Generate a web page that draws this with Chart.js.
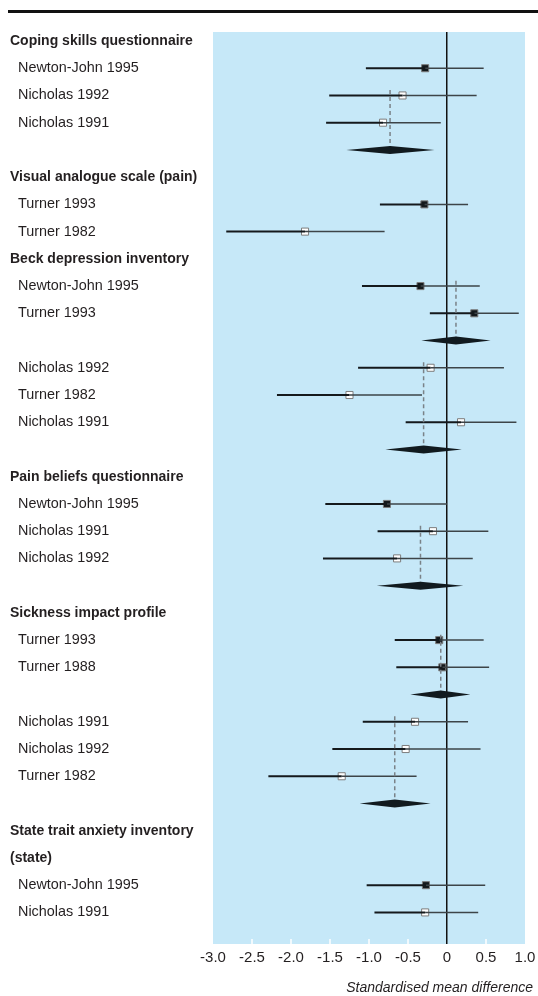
<!DOCTYPE html>
<html>
<head>
<meta charset="utf-8">
<script src="https://cdn.jsdelivr.net/npm/chart.js@4.4.1/dist/chart.umd.min.js"></script>
<style>
  html, body { margin: 0; padding: 0; background: #fff; }
  #wrap { position: relative; width: 538px; height: 996px; }
  #rule { position: absolute; left: 8px; right: 0; top: 10px; height: 2.5px; background: #111; }
  #xtitle {
    position: absolute; right: 5px; top: 979px;
    font: italic 14px "Liberation Sans", Arial, Helvetica, sans-serif;
    color: #231f20;
  }
</style>
</head>
<body>
<div id="wrap">
  <div id="rule"></div>
  <canvas id="forestChart"></canvas>
  <div id="xtitle">Standardised mean difference</div>
</div>
<script>
// one label per row, top to bottom ("" = row for a pooled diamond)
const rowLabels = [
  "Coping skills questionnaire", "Newton-John 1995", "Nicholas 1992", "Nicholas 1991", "",
  "Visual analogue scale (pain)", "Turner 1993", "Turner 1982",
  "Beck depression inventory", "Newton-John 1995", "Turner 1993", "",
  "Nicholas 1992", "Turner 1982", "Nicholas 1991", "",
  "Pain beliefs questionnaire", "Newton-John 1995", "Nicholas 1991", "Nicholas 1992", "",
  "Sickness impact profile", "Turner 1993", "Turner 1988", "",
  "Nicholas 1991", "Nicholas 1992", "Turner 1982", "",
  "State trait anxiety inventory", "(state)", "Newton-John 1995", "Nicholas 1991"
];
const headingRows = [0, 5, 8, 16, 21, 29, 30];

// individual studies
const studyRows = [1, 2, 3, 6, 7, 9, 10, 12, 13, 14, 17, 18, 19, 22, 23, 25, 26, 27, 31, 32];
const studyEst = [-0.28, -0.57, -0.82, -0.29, -1.82, -0.34, 0.35, -0.21, -1.25, 0.18,
                  -0.77, -0.18, -0.64, -0.10, -0.06, -0.41, -0.53, -1.35, -0.27, -0.28];
const studyLow = [-1.04, -1.51, -1.55, -0.86, -2.83, -1.09, -0.22, -1.14, -2.18, -0.53,
                  -1.56, -0.89, -1.59, -0.67, -0.65, -1.08, -1.47, -2.29, -1.03, -0.93];
const studyHigh = [0.47, 0.38, -0.08, 0.27, -0.80, 0.42, 0.92, 0.73, -0.32, 0.89,
                   0.00, 0.53, 0.33, 0.47, 0.54, 0.27, 0.43, -0.39, 0.49, 0.40];
const studyFilled = [true, false, false, true, false, true, true, false, false, false,
                     true, false, false, true, true, false, false, false, true, false];

// pooled estimates (diamonds)
const pooledRows = [4, 11, 15, 20, 24, 28];
const pooledEst = [-0.73, 0.115, -0.30, -0.34, -0.08, -0.67];
const pooledLow = [-1.29, -0.33, -0.79, -0.90, -0.47, -1.12];
const pooledHigh = [-0.16, 0.56, 0.19, 0.21, 0.30, -0.21];
const pooledFromRow = [2, 9, 12, 18, 22, 25];

const xTickLabels = ["-3.0", "-2.5", "-2.0", "-1.5", "-1.0", "-0.5", "0", "0.5", "1.0"];

const FONT = '"Liberation Sans", Arial, Helvetica, sans-serif';
const INK = "#231f20";

const gap = { x: null, y: null };
const lowSegs = [], highSegs = [], dashSegs = [];
studyRows.forEach((r, i) => {
  lowSegs.push({ x: studyLow[i], y: r }, { x: studyEst[i], y: r }, gap);
  highSegs.push({ x: studyEst[i], y: r }, { x: studyHigh[i], y: r }, gap);
});
pooledRows.forEach((r, i) => {
  dashSegs.push({ x: pooledEst[i], y: pooledFromRow[i] - 0.2 }, { x: pooledEst[i], y: r }, gap);
});

const filledPts = [], openPts = [];
studyRows.forEach((r, i) => {
  (studyFilled[i] ? filledPts : openPts).push({ x: studyEst[i], y: r });
});

// light blue panel, white tick marks, diamonds
const forestPlugin = {
  id: "forest",
  beforeDraw(chart) {
    const { ctx, chartArea: a } = chart;
    ctx.save();
    ctx.fillStyle = "#c6e8f8";
    ctx.fillRect(a.left, a.top, a.right - a.left, a.bottom - a.top);
    ctx.restore();
  },
  afterDatasetsDraw(chart) {
    const { ctx, chartArea: a, scales: { x, y } } = chart;
    ctx.save();
    ctx.strokeStyle = "#fff";
    ctx.lineWidth = 1.5;
    x.ticks.forEach(t => {
      if (t.value <= -3 || t.value >= 1 || t.value === 0) return;
      const px = x.getPixelForValue(t.value);
      ctx.beginPath();
      ctx.moveTo(px, a.bottom - 5);
      ctx.lineTo(px, a.bottom);
      ctx.stroke();
    });
    ctx.fillStyle = "#111a1f";
    pooledRows.forEach((r, i) => {
      const py = y.getPixelForValue(r);
      ctx.beginPath();
      ctx.moveTo(x.getPixelForValue(pooledLow[i]), py);
      ctx.lineTo(x.getPixelForValue(pooledEst[i]), py - 4);
      ctx.lineTo(x.getPixelForValue(pooledHigh[i]), py);
      ctx.lineTo(x.getPixelForValue(pooledEst[i]), py + 4);
      ctx.closePath();
      ctx.fill();
    });
    ctx.restore();
  }
};

new Chart(document.getElementById("forestChart"), {
  type: "scatter",
  data: {
    datasets: [
      { data: dashSegs, showLine: true, spanGaps: false, borderColor: "#7a8288", borderWidth: 1.5,
        borderDash: [4, 3], pointRadius: 0 },
      { data: lowSegs, showLine: true, spanGaps: false, borderColor: "#14191c", borderWidth: 2,
        pointRadius: 0 },
      { data: highSegs, showLine: true, spanGaps: false, borderColor: "#3d4448", borderWidth: 1.5,
        pointRadius: 0 },
      { data: filledPts, pointStyle: "rect", pointRadius: 5, backgroundColor: "#14191c",
        borderColor: "#7d7d7d", borderWidth: 1 },
      { data: openPts, pointStyle: "rect", pointRadius: 5, backgroundColor: "#ffffff",
        borderColor: "#7d7d7d", borderWidth: 1 }
    ]
  },
  options: {
    responsive: true,
    maintainAspectRatio: false,
    animation: false,
    layout: { padding: { left: 10, right: 13, top: 32, bottom: 0 } },
    plugins: { legend: { display: false }, tooltip: { enabled: false } },
    scales: {
      x: {
        type: "linear",
        min: -3,
        max: 1,
        afterFit: s => { s.height = 52; s.paddingRight = 10; s.paddingLeft = 0; },
        ticks: {
          stepSize: 0.5,
          padding: 5,
          color: INK,
          font: { family: FONT, size: 15 },
          callback: (v, i) => xTickLabels[i]
        },
        grid: {
          drawTicks: false,
          lineWidth: 1.5,
          color: c => (c.tick && c.tick.value === 0 ? "#111" : "rgba(0,0,0,0)")
        },
        border: { display: false }
      },
      y: {
        type: "linear",
        reverse: true,
        min: -0.33,
        max: 33.16,
        afterFit: s => { s.width = 203; },
        afterBuildTicks: s => { s.ticks = rowLabels.map((_, i) => ({ value: i })); },
        ticks: {
          autoSkip: false,
          crossAlign: "far",
          padding: 0,
          color: INK,
          font: c => (headingRows.includes(c.index)
            ? { family: FONT, size: 14, weight: "bold" }
            : { family: FONT, size: 14.4, weight: "normal" }),
          callback: (v, i) => (headingRows.includes(i) ? rowLabels[i] : "  " + rowLabels[i])
        },
        grid: { display: false },
        border: { display: false }
      }
    }
  },
  plugins: [forestPlugin]
});
</script>
</body>
</html>
